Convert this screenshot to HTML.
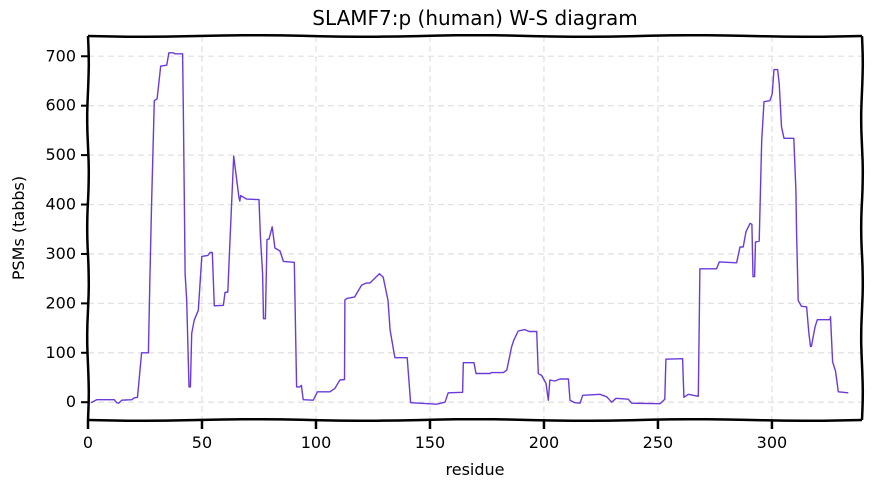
<!DOCTYPE html>
<html><head><meta charset="utf-8"><style>
body{margin:0;background:#fff;width:872px;height:492px;overflow:hidden}
svg text{font-family:"DejaVu Sans","Liberation Sans",sans-serif;fill:#000}
</style></head><body>
<svg id="chart" width="872" height="492" xmlns="http://www.w3.org/2000/svg">
<text x="475" y="25" text-anchor="middle" font-size="20">SLAMF7:p (human) W-S diagram</text>
<text x="475" y="475" text-anchor="middle" font-size="16">residue</text>
<text transform="translate(24,228) rotate(-90)" text-anchor="middle" font-size="16">PSMs (tabbs)</text>
<g id="grid"></g>
<g id="series"></g>
<g id="axes"></g>
</svg>
<script>
const residues=[1.3,3.8,11.5,12.6,13.5,14.8,19.2,20.3,21.7,23.5,26.5,27.2,27.9,29.1,30.3,31.9,34.5,35.5,37.4,38.1,41.5,41.8,42.3,42.6,43.3,44.3,44.9,45.5,46.6,48.4,49.9,52.6,53.5,54.5,55.4,59.4,60.1,61.3,62.3,63.9,66.2,66.6,67,69.6,75,75.6,76.6,77,77.8,78.5,79.4,80.8,82,84.2,85.7,90.5,91.5,92.9,93.6,94.4,98.8,100.6,106.1,108.3,110.5,112.5,112.7,113.6,117,120,122,123.6,127.8,129.5,131.6,132.5,134.6,140,141.5,152.9,156.6,158,164.3,164.6,169.3,170.2,176.3,177,182.2,183.7,185.8,186.8,188.7,191.6,193.5,196.8,197.5,199,200.9,201.9,202.6,204.8,207,210.7,211.4,213.6,215.8,217,224.6,227.5,229.7,231.6,237,238.5,250.9,253,253.5,260.8,261.4,263.3,265.5,267.7,268.4,275.7,276.9,284.5,286,287.4,288.6,290.4,291.2,291.7,292.4,292.8,294.4,295.5,296.5,299.1,300.1,300.9,302.5,303.2,304.2,305.3,309.6,310.5,310.8,311.5,312.9,315.2,316.2,316.9,317.3,318.9,319.9,325.4,325.7,326.6,327.9,329.1,333.5];
const psms=[-1,5,5,-1,-2,4,5,9,10,100,100,260,403,610,614,680,682,707,707,705,705,598,395,260,206,31,31,139,166,186,295,297,303,303,195,196,222,223,328,498,415,407,418,411,410,335,260,169,169,329,330,355,312,306,285,283,31,31,34,5,4,21,21,28,45,46,207,210,213,237,241,241,260,253,206,146,90,90,-1,-4,0,19,20,80,80,58,58,60,60,65,112,126,144,147,143,143,58,54,38,4,45,43,47,47,4,-1,-2,14,16,11,0,8,6,-2,-3,6,87,88,10,16,14,12,270,270,284,282,314,314,345,362,360,254,254,324,326,530,608,610,624,673,673,645,557,534,534,429,341,206,194,193,139,113,113,152,167,167,173,82,62,21,19];
const xTicks=[0,50,100,150,200,250,300];
const yTicks=[0,100,200,300,400,500,600,700];
const L=88,R=862,T=36,B=420,X0=0,X1=339.5,Y0=-36,Y1=741;
const sx=v=>L+(v-X0)/(X1-X0)*(R-L), sy=v=>B-(v-Y0)/(Y1-Y0)*(B-T);
const NS="http://www.w3.org/2000/svg";
function mk(tag,attrs,parent){const e=document.createElementNS(NS,tag);for(const k in attrs)e.setAttribute(k,attrs[k]);parent.appendChild(e);return e;}
const grid=document.getElementById('grid'),axes=document.getElementById('axes'),series=document.getElementById('series');
xTicks.forEach(t=>{
 const g=mk('line',{x1:sx(t),x2:sx(t),y1:T,y2:B,stroke:'#e2e2e2','stroke-width':1.3,'stroke-dasharray':'6,4'},grid);
 
 const tk=mk('line',{x1:sx(t),x2:sx(t),y1:B,y2:B+9,stroke:'#000','stroke-width':2.5},axes);
 
 const tx=mk('text',{x:sx(t),y:B+28,'text-anchor':'middle','font-size':16},axes);tx.textContent=t;
 
});
yTicks.forEach(t=>{
 const g=mk('line',{x1:L,x2:R,y1:sy(t),y2:sy(t),stroke:'#e2e2e2','stroke-width':1.3,'stroke-dasharray':'6,4'},grid);
 
 const tk=mk('line',{x1:L-7,x2:L,y1:sy(t),y2:sy(t),stroke:'#000','stroke-width':2},axes);
 
 const tx=mk('text',{x:L-12,y:sy(t)+5,'text-anchor':'end','font-size':16},axes);tx.textContent=t;
 
});
function wig(x1,y1,x2,y2){let d='';const n=40;for(let i=0;i<=n;i++){const f=i/n;const w=Math.sin(f*Math.PI*7)*0.8;const x=x1+(x2-x1)*f+(x1===x2?w:0);const y=y1+(y2-y1)*f+(y1===y2?w:0);d+=(i?'L':'M')+x.toFixed(1)+','+y.toFixed(1);}return d;}
[[L,T,R,T,'top-spine'],[L,B,R,B,'bottom-spine'],[L,T,L,B,'left-spine'],[R,T,R,B,'right-spine']].forEach(s=>{
 const p=mk('path',{d:wig(s[0],s[1],s[2],s[3]),fill:'none',stroke:'#000','stroke-width':2.5},axes);
 
});
let d='';residues.forEach((r,i)=>{d+=(i?'L':'M')+sx(r).toFixed(1)+','+sy(psms[i]).toFixed(1);});
const line=mk('path',{d:d,fill:'none',stroke:'#6a3bd8','stroke-width':1.4,'stroke-linejoin':'round'},series);


</script>
</body></html>
